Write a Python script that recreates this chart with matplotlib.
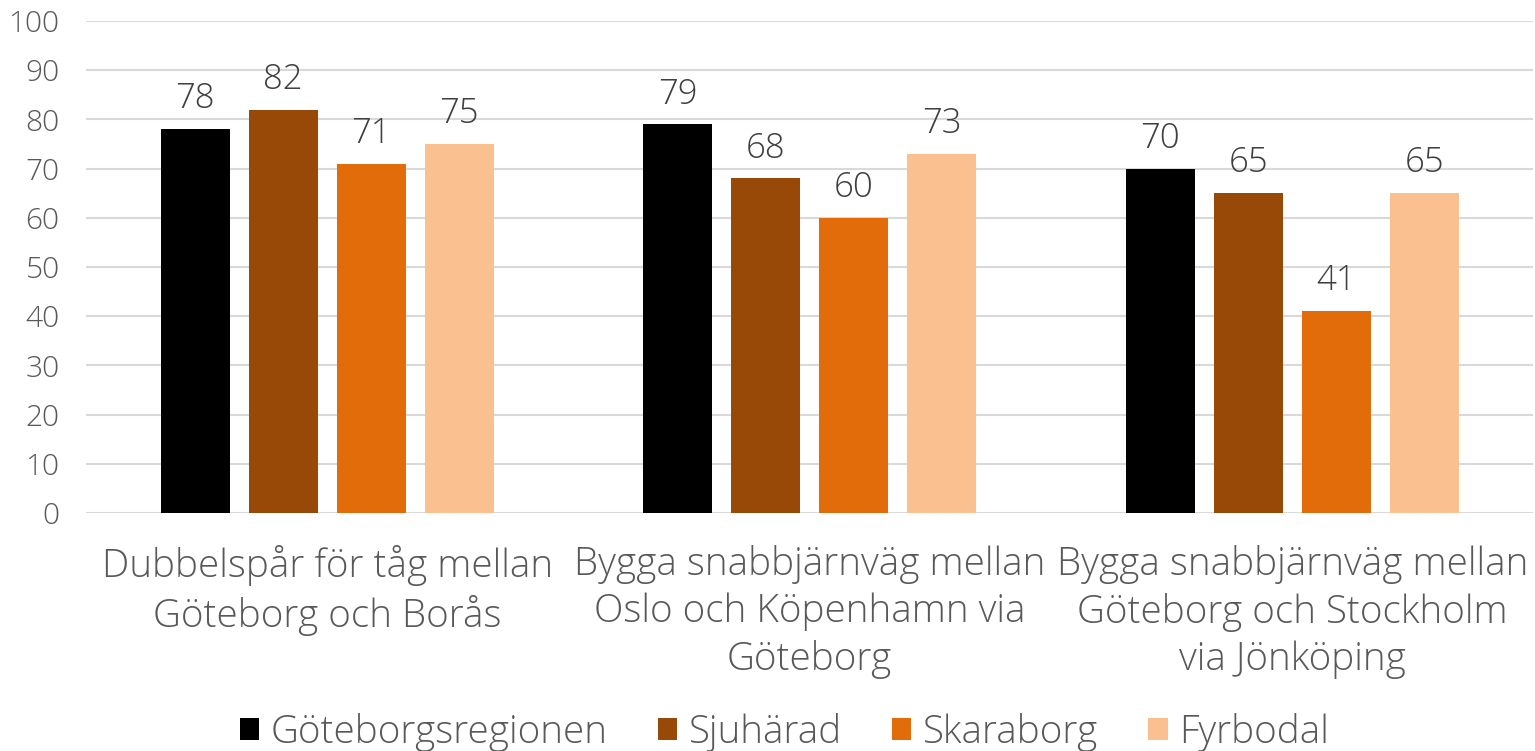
import matplotlib.pyplot as plt
import numpy as np

plt.rcParams['font.family'] = ['Open Sans', 'DejaVu Sans']

categories = [
    "Dubbelspår för tåg mellan\nGöteborg och Borås",
    "Bygga snabbjärnväg mellan\nOslo och Köpenhamn via\nGöteborg",
    "Bygga snabbjärnväg mellan\nGöteborg och Stockholm\nvia Jönköping",
]
series = ["Göteborgsregionen", "Sjuhärad", "Skaraborg", "Fyrbodal"]
goteborg = [78, 79, 70]
sjuharad = [82, 68, 65]
skaraborg = [71, 60, 41]
fyrbodal = [75, 73, 65]
values = [goteborg, sjuharad, skaraborg, fyrbodal]
colors = ["#000000", "#984807", "#E36C0A", "#FAC090"]

text_col = "#595959"

fig = plt.figure(figsize=(15.35, 7.51), dpi=100)
ax = fig.add_axes([0.056, 0.317, 0.943, 0.655])

x = np.arange(len(categories))
width = 0.143
step = 0.1826
handles = []
for i, (name, vals, col) in enumerate(zip(series, values, colors)):
    pos = x + (i - 1.5) * step
    bars = ax.bar(pos, vals, width, color=col, label=name, zorder=3)
    handles.append(bars)
    for p, v in zip(pos, vals):
        ax.text(p, v + 2.6, str(v), ha="center", va="bottom",
                fontsize=25, color="#404040", fontweight="light")

ax.set_xlim(-0.5, 2.5)
ax.set_ylim(0, 100)
ax.set_yticks(range(0, 101, 10))
ax.yaxis.grid(True, color="#D9D9D9", linewidth=1.5, zorder=0)
ax.set_axisbelow(True)
for s in ax.spines.values():
    s.set_visible(False)
ax.tick_params(axis="y", length=0, labelsize=21.5, labelcolor=text_col, pad=19)
ax.tick_params(axis="x", length=0, labelsize=27.8, labelcolor=text_col, pad=23)
ax.set_xticks(x)
ax.set_xticklabels(categories, linespacing=1.3)
for lab in ax.get_xticklabels() + ax.get_yticklabels():
    lab.set_fontweight("light")

leg = fig.legend(handles=handles, labels=series, loc="lower center", ncol=4,
                 frameon=False, labelcolor=text_col,
                 bbox_to_anchor=(0.511, -0.047), handlelength=0.5,
                 handleheight=0.5, handletextpad=0.3, columnspacing=1.3,
                 prop={"size": 27.8, "weight": "light"})

fig.savefig("out.png", dpi=100)
